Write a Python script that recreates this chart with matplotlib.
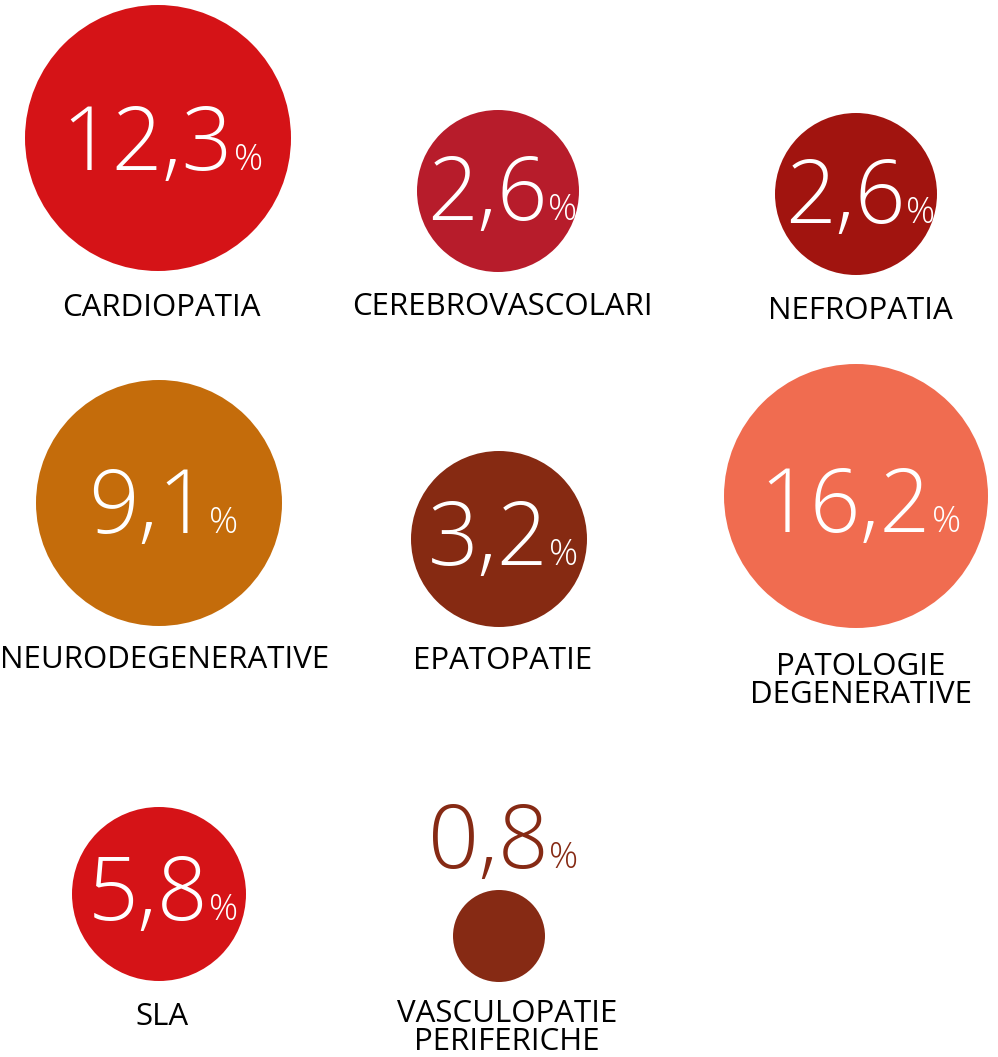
import matplotlib
matplotlib.use('Agg')
import matplotlib.pyplot as plt
from matplotlib.patches import Circle

# data
labels = ['CARDIOPATIA', 'CEREBROVASCOLARI', 'NEFROPATIA',
          'NEURODEGENERATIVE', 'EPATOPATIE', 'PATOLOGIE\nDEGENERATIVE',
          'SLA', 'VASCULOPATIE\nPERIFERICHE']
values = [12.3, 2.6, 2.6, 9.1, 3.2, 16.2, 5.8, 0.8]

# layout (pixels, y from top)
cx = [158, 498, 856, 159, 499, 856, 159, 499]
cy = [138, 191, 194, 503, 539, 496, 894, 936]
radius = [133, 81, 81, 123, 88, 132, 87, 46]
num_base = [170, 220, 223, 533, 565, 532, 920, 868]
label_x = [161, 502, 860, 165, 503, 861, 162, 507]
label_base = [316, 315, 319, 668, 669, 675, 1025, 1022]
colors = ['#d51317', '#b71c2b', '#a1140f', '#c46c0b', '#862a12',
          '#f06c50', '#d51317', '#862a14']
num_colors = ['white'] * 7 + ['#862a14']

W, H = 998, 1057
fig = plt.figure(figsize=(W / 100, H / 100), dpi=100)
ax = fig.add_axes([0, 0, 1, 1])
ax.set_xlim(0, W)
ax.set_ylim(H, 0)
ax.axis('off')

font = 'Open Sans'

for i, v in enumerate(values):
    ax.add_patch(Circle((cx[i], cy[i]), radius[i], color=colors[i], lw=0))
    for j, line in enumerate(labels[i].split('\n')):
        ax.text(label_x[i], label_base[i] + 28 * j, line, ha='center',
                va='baseline', fontsize=22.5, family=font, color='black')

fig.canvas.draw()
renderer = fig.canvas.get_renderer()

# value + small "%" placed right after it, centred on the bubble
for i, v in enumerate(values):
    s = f'{v:.1f}'.replace('.', ',')
    t = ax.text(0, num_base[i], s, ha='left', va='baseline', fontsize=64,
                family=font, fontweight='light', color=num_colors[i])
    p = ax.text(0, num_base[i], '%', ha='left', va='baseline', fontsize=26,
                family=font, fontweight='light', color=num_colors[i])
    wn = t.get_window_extent(renderer).width
    wp = p.get_window_extent(renderer).width
    x0 = cx[i] + 4 - (wn + wp) / 2
    t.set_x(x0)
    p.set_x(x0 + wn + 0.5)

fig.savefig('out.png', dpi=100, facecolor='white')
